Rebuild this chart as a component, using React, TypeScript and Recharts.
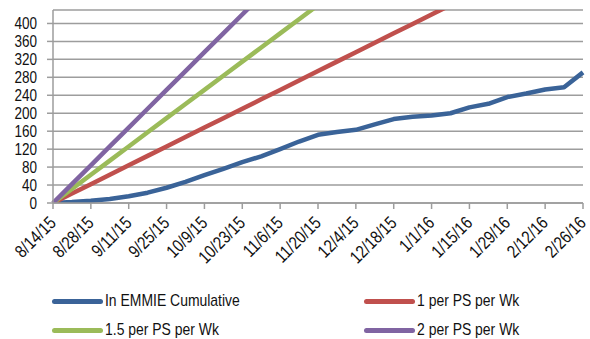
import { LineChart, Line, XAxis, YAxis, CartesianGrid } from 'recharts'

const weeks = [
  '8/14/15', '8/21/15', '8/28/15', '9/4/15', '9/11/15', '9/18/15', '9/25/15', '10/2/15',
  '10/9/15', '10/16/15', '10/23/15', '10/30/15', '11/6/15', '11/13/15', '11/20/15', '11/27/15',
  '12/4/15', '12/11/15', '12/18/15', '12/25/15', '1/1/16', '1/8/16', '1/15/16', '1/22/16',
  '1/29/16', '2/5/16', '2/12/16', '2/19/16', '2/26/16',
]

const cumulative = [
  0, 2, 5, 9, 15, 23, 34, 47, 62, 76, 91, 104, 120, 137, 152, 158, 163, 175, 187, 192, 195,
  200, 213, 221, 236, 244, 253, 258, 291,
]
const onePerWk = [
  0, 21, 42, 63, 84, 105, 126, 147, 168, 189, 210, 231, 252, 273, 294, 315, 336, 357, 378, 399,
  420, 441, 462, 483, 504, 525, 546, 567, 588,
]
const onePointFivePerWk = [
  0, 31.5, 63, 94.5, 126, 157.5, 189, 220.5, 252, 283.5, 315, 346.5, 378, 409.5, 441, 472.5, 504,
  535.5, 567, 598.5, 630, 661.5, 693, 724.5, 756, 787.5, 819, 850.5, 882,
]
const twoPerWk = [
  0, 42, 84, 126, 168, 210, 252, 294, 336, 378, 420, 462, 504, 546, 588, 630, 672, 714, 756, 798,
  840, 882, 924, 966, 1008, 1050, 1092, 1134, 1176,
]

const yTicks = [0, 40, 80, 120, 160, 200, 240, 280, 320, 360, 400]

const SERIES = [
  { key: 'cum', name: 'In EMMIE Cumulative', color: '#3A6398' },
  { key: 'one', name: '1 per PS per Wk', color: '#C0504D' },
  { key: 'onefive', name: '1.5 per PS per Wk', color: '#9BBB59' },
  { key: 'two', name: '2 per PS per Wk', color: '#8064A2' },
]

// no narrow font installed, so squeeze Liberation Sans a bit
const FONT = "'Liberation Sans', Arial, sans-serif"
const SQUEEZE = 0.82
const GRID = '#9d9d9d'

const data = weeks.map((w, i) => ({
  week: w,
  cum: cumulative[i],
  one: onePerWk[i],
  onefive: onePointFivePerWk[i],
  two: twoPerWk[i],
}))

function DateTick({ x, y, payload }: any) {
  return (
    <g transform={`translate(${x + 4},${y + 13}) rotate(-45) scale(${SQUEEZE},1)`}>
      <text x={0} y={0} textAnchor="end" fontFamily={FONT} fontSize={18} fill="#111">
        {payload.value}
      </text>
    </g>
  )
}

function ValueTick({ x, y, payload }: any) {
  return (
    <g transform={`translate(${x},${y}) scale(${SQUEEZE},1)`}>
      <text x={0} y={0} dy="0.36em" textAnchor="end" fontFamily={FONT} fontSize={16.5} fill="#111">
        {payload.value}
      </text>
    </g>
  )
}

function LegendRow({ name, color, left, top }: { name: string; color: string; left: number; top: number }) {
  return (
    <div style={{ position: 'absolute', left, top, height: 20, display: 'flex', alignItems: 'center' }}>
      <span style={{ width: 51, height: 5, borderRadius: 3, background: color, marginRight: 2 }} />
      <span
        style={{
          fontFamily: FONT,
          fontSize: 17,
          color: '#111',
          whiteSpace: 'nowrap',
          transform: `scaleX(${SQUEEZE})`,
          transformOrigin: 'left center',
        }}
      >
        {name}
      </span>
    </div>
  )
}

export default function App() {
  return (
    <div style={{ position: 'absolute', left: 0, top: 0, width: 590, height: 339, background: '#fff' }}>
      <LineChart width={590} height={339} data={data} margin={{ top: 10, right: 7, bottom: 106, left: 0 }}>
        <CartesianGrid vertical={false} stroke={GRID} strokeWidth={1.5} />
        <XAxis
          dataKey="week"
          height={30}
          interval={1}
          tick={<DateTick />}
          tickLine={{ stroke: GRID, strokeWidth: 1.5 }}
          tickSize={6}
          axisLine={{ stroke: GRID, strokeWidth: 1.5 }}
        />
        <YAxis
          type="number"
          domain={[0, 430]}
          allowDataOverflow
          ticks={yTicks}
          interval={0}
          width={53}
          tickSize={6}
          tickMargin={10}
          tickLine={{ stroke: GRID, strokeWidth: 1.5 }}
          axisLine={{ stroke: GRID, strokeWidth: 1.5 }}
          tick={<ValueTick />}
        />
        {SERIES.map((s) => (
          <Line
            key={s.key}
            dataKey={s.key}
            name={s.name}
            stroke={s.color}
            strokeWidth={4.5}
            strokeLinejoin="round"
            dot={false}
            isAnimationActive={false}
          />
        ))}
      </LineChart>
      <LegendRow name={SERIES[0].name} color={SERIES[0].color} left={52} top={291} />
      <LegendRow name={SERIES[1].name} color={SERIES[1].color} left={364} top={291} />
      <LegendRow name={SERIES[2].name} color={SERIES[2].color} left={52} top={320} />
      <LegendRow name={SERIES[3].name} color={SERIES[3].color} left={364} top={320} />
    </div>
  )
}
